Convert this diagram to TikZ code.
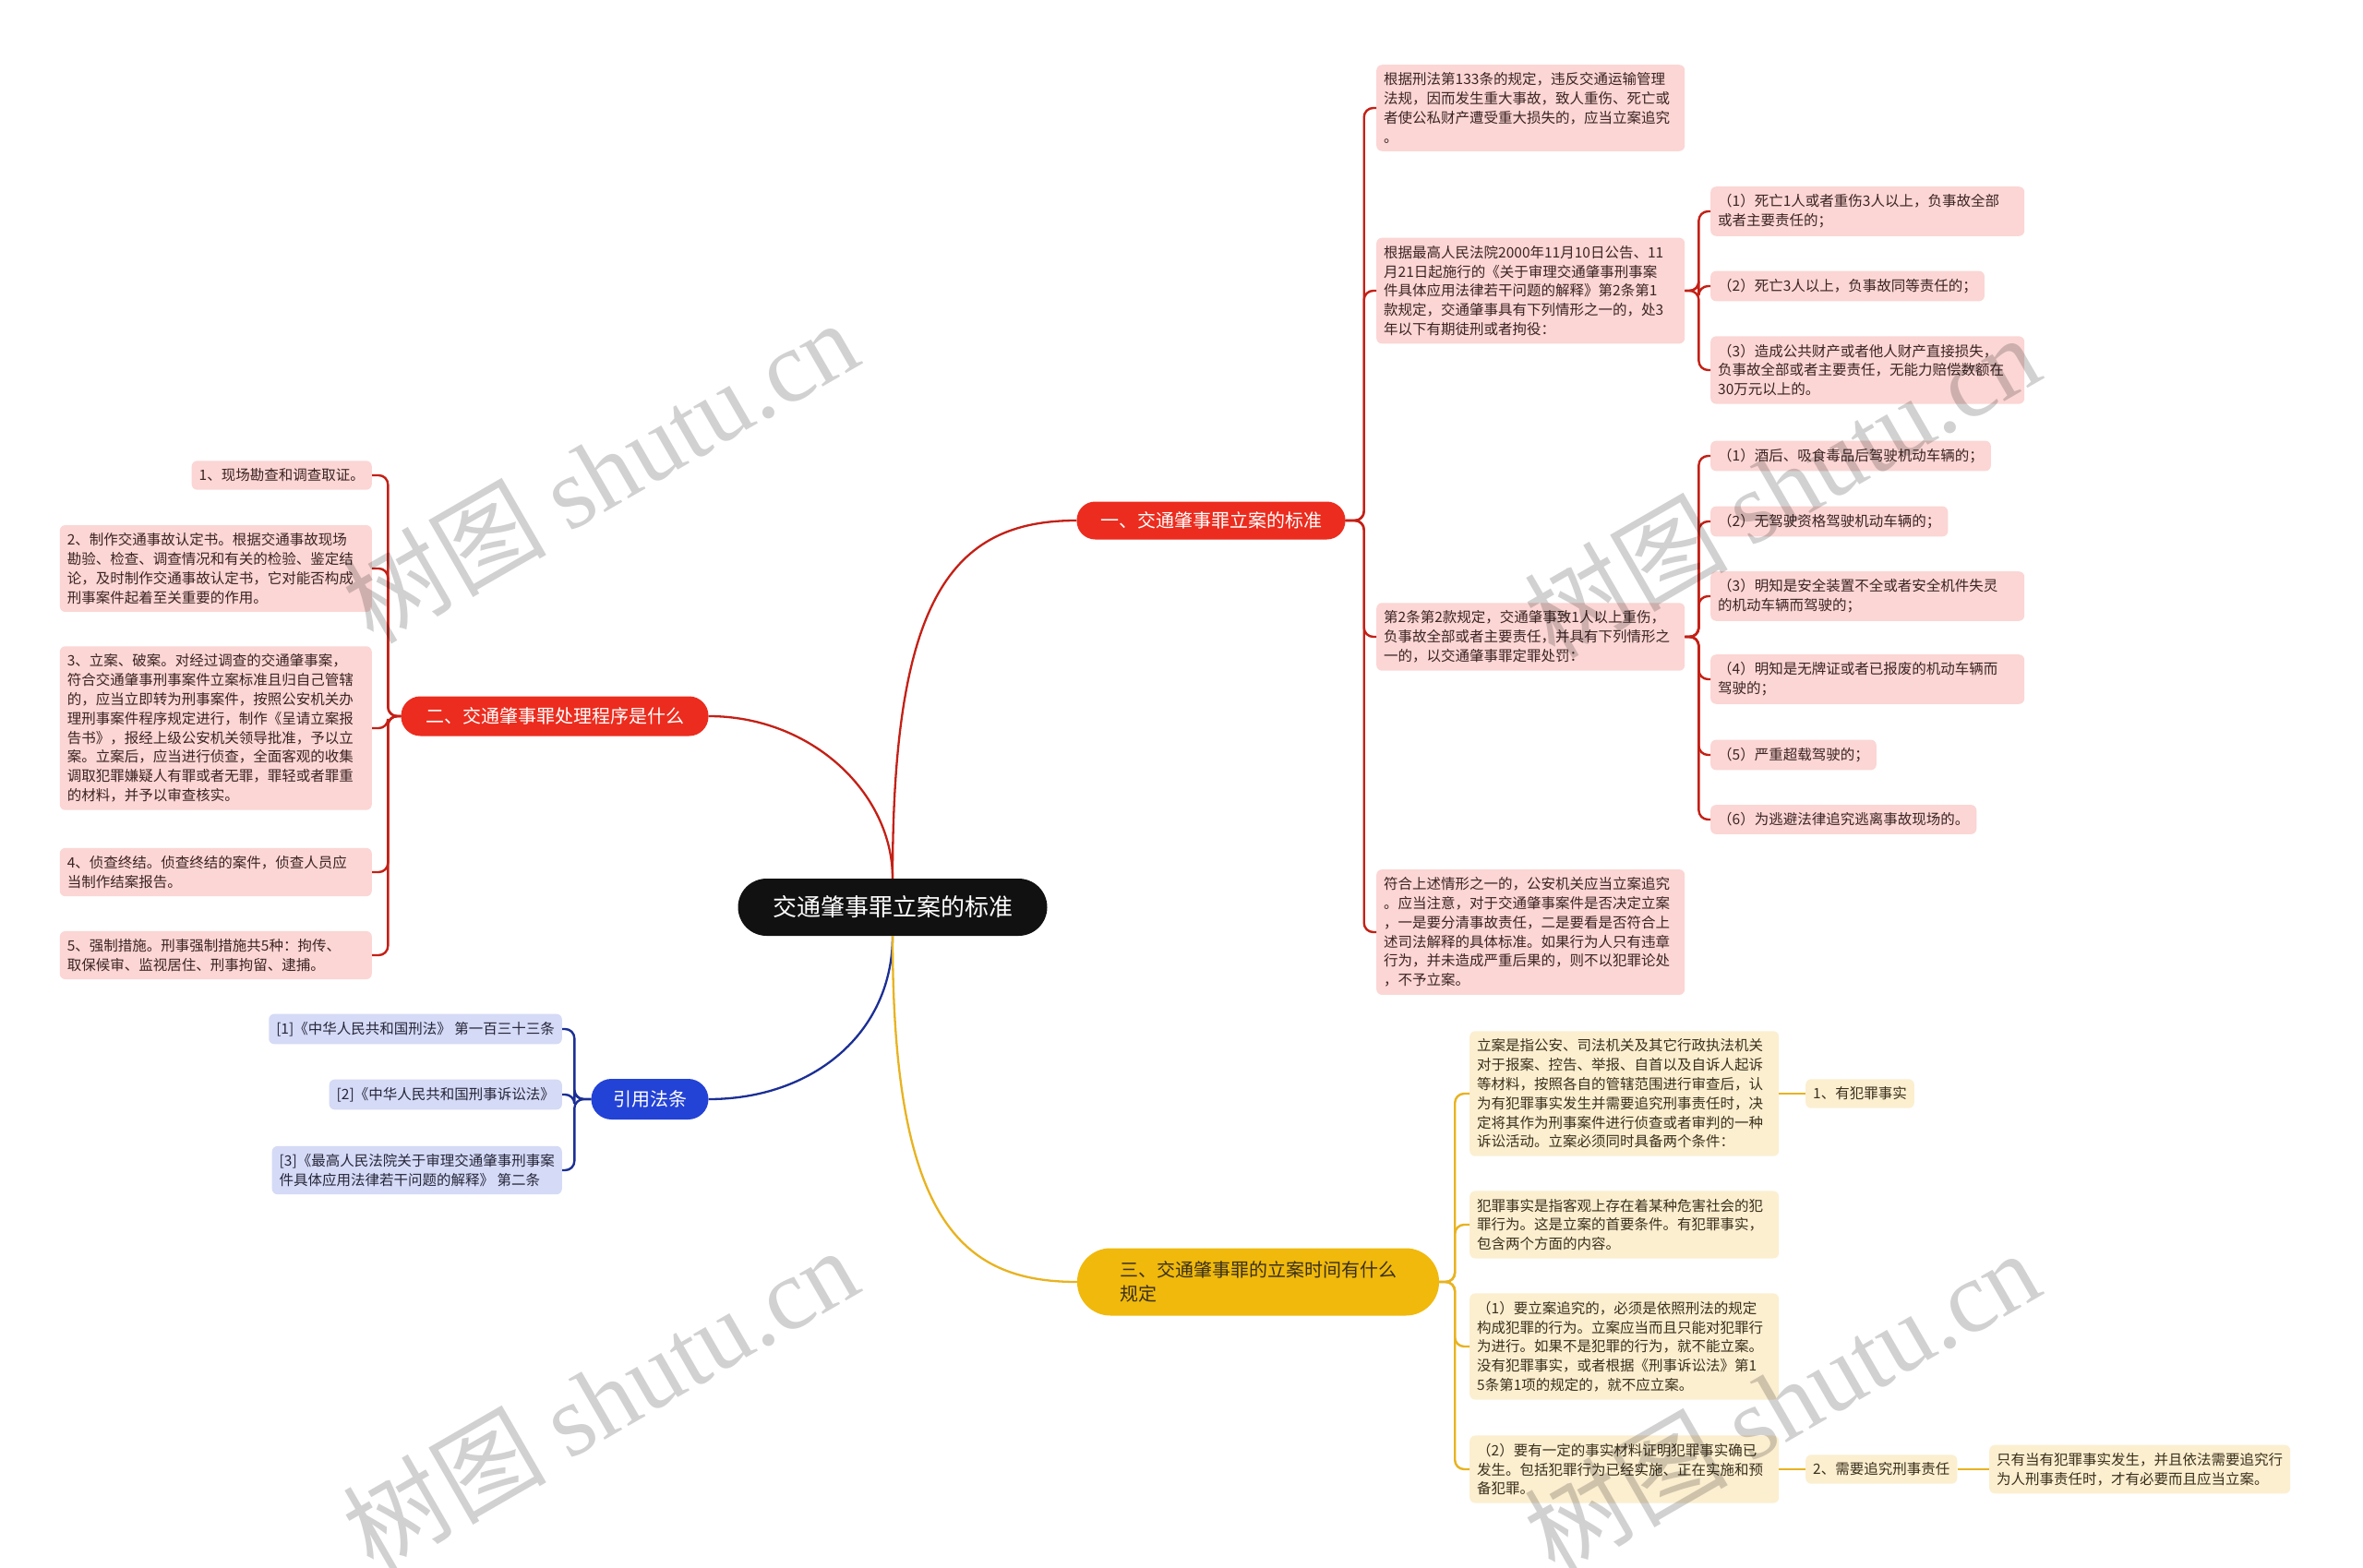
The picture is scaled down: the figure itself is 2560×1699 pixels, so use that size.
\documentclass[tikz,border=0pt]{standalone}
\usepackage{fontspec}
\setmainfont{Noto Sans CJK SC}
\newfontfamily\wmlatin{Liberation Serif}
\definecolor{redpill}{HTML}{EC2C1E}
\definecolor{redline}{HTML}{C42016}
\definecolor{pinkbox}{HTML}{FBD6D4}
\definecolor{pinktext}{HTML}{3C2424}
\definecolor{bluepill}{HTML}{2342D6}
\definecolor{blueline}{HTML}{1B2F95}
\definecolor{lavbox}{HTML}{D5DAF6}
\definecolor{bluetext}{HTML}{26263A}
\definecolor{yelpill}{HTML}{F0B90C}
\definecolor{yelline}{HTML}{E8B320}
\definecolor{yelbox}{HTML}{FCEFD0}
\definecolor{yeltext}{HTML}{3A301C}
\definecolor{centerfill}{HTML}{111111}
\begin{document}
\begin{tikzpicture}[x=1pt,y=-1pt,
  box/.style={rounded corners=6pt, inner xsep=8pt, inner ysep=8.5pt,
    font=\fontsize{15.5}{20.8}\selectfont, align=left},
  pinkb/.style={box, fill=pinkbox, text=pinktext},
  lavb/.style={box, fill=lavbox, text=bluetext},
  yelb/.style={box, fill=yelbox, text=yeltext},
  pillbase/.style={rectangle, inner xsep=12pt, inner ysep=4pt,
    font=\fontsize{20}{26}\selectfont},
  redpillst/.style={pillbase, fill=redpill, text=white},
  bluepillst/.style={pillbase, fill=bluepill, text=white},
  yelpillst/.style={pillbase, fill=yelpill, text=yeltext, align=left},
  centerst/.style={rectangle, rounded corners=31pt, fill=centerfill, text=white,
    font=\fontsize{26}{30}\selectfont, minimum width=335pt, minimum height=62pt},
  redm/.style={draw=redline, line width=2.3pt},
  bluem/.style={draw=blueline, line width=2.3pt},
  yelm/.style={draw=yelline, line width=2.3pt},
  redl/.style={draw=redline, line width=2.4pt, rounded corners=10pt},
  bluel/.style={draw=blueline, line width=2.4pt, rounded corners=10pt},
  yell/.style={draw=yelline, line width=2.4pt, rounded corners=10pt},
  wm/.style={text=black, text opacity=0.18, font=\fontsize{110}{120}\selectfont, rotate=30}
]
\path[use as bounding box, fill=white] (0,0) rectangle (2560,1699);

% center and main branches
\node[centerst] (c) at (967,983) {交通肇事罪立案的标准};
\node[redpillst, rounded corners=20pt, minimum width=291pt, minimum height=41pt] (b1) at (1312,564) {一、交通肇事罪立案的标准};
\node[redpillst, rounded corners=21pt, minimum width=333pt, minimum height=43pt] (b2) at (601,776) {二、交通肇事罪处理程序是什么};
\node[bluepillst, rounded corners=22pt, minimum width=127pt, minimum height=44pt] (b4) at (704,1191) {引用法条};
\node[yelpillst, rounded corners=36pt, minimum width=392pt, minimum height=73pt] (b3) at (1363,1389) {三、交通肇事罪的立案时间有什么\\规定};

\draw[redm] (c.north) .. controls (967,650) and (1030,564) .. (b1.west);
\draw[redm] (c.north) .. controls (967,860) and (880,776) .. (b2.east);
\draw[bluem] (c.south) .. controls (967,1120) and (880,1191) .. (b4.east);
\draw[yelm] (c.south) .. controls (967,1320) and (1040,1389) .. (b3.west);

% branch 1 children
\node[pinkb, text width=318pt, anchor=west] (a1) at (1491,117) {根据刑法第133条的规定，违反交通运输管理\\法规，因而发生重大事故，致人重伤、死亡或\\者使公私财产遭受重大损失的，应当立案追究\\。};
\node[pinkb, text width=318pt, anchor=west] (a2) at (1491,315) {根据最高人民法院2000年11月10日公告、11\\月21日起施行的《关于审理交通肇事刑事案\\件具体应用法律若干问题的解释》第2条第1\\款规定，交通肇事具有下列情形之一的，处3\\年以下有期徒刑或者拘役：};
\node[pinkb, text width=318pt, anchor=west] (a3) at (1491,690) {第2条第2款规定，交通肇事致1人以上重伤，\\负事故全部或者主要责任，并具有下列情形之\\一的，以交通肇事罪定罪处罚：};
\node[pinkb, text width=318pt, anchor=west] (a4) at (1491,1010) {符合上述情形之一的，公安机关应当立案追究\\。应当注意，对于交通肇事案件是否决定立案\\，一是要分清事故责任，二是要看是否符合上\\述司法解释的具体标准。如果行为人只有违章\\行为，并未造成严重后果的，则不以犯罪论处\\，不予立案。};
\foreach \n in {a1,a2,a3,a4} \draw[redl] (b1.east) -- ++(20,0) |- (\n.west);

% a2 children
\node[pinkb, text width=324pt, anchor=west] (p1) at (1853,229) {（1）死亡1人或者重伤3人以上，负事故全部\\或者主要责任的；};
\node[pinkb, anchor=west] (p2) at (1853,310) {（2）死亡3人以上，负事故同等责任的；};
\node[pinkb, text width=324pt, anchor=west] (p3) at (1853,401) {（3）造成公共财产或者他人财产直接损失，\\负事故全部或者主要责任，无能力赔偿数额在\\30万元以上的。};
\foreach \n in {p1,p2,p3} \draw[redl] (a2.east) -- ++(15,0) |- (\n.west);

% a3 children
\node[pinkb, anchor=west] (q1) at (1853,494) {（1）酒后、吸食毒品后驾驶机动车辆的；};
\node[pinkb, anchor=west] (q2) at (1853,565) {（2）无驾驶资格驾驶机动车辆的；};
\node[pinkb, text width=324pt, anchor=west] (q3) at (1853,646) {（3）明知是安全装置不全或者安全机件失灵\\的机动车辆而驾驶的；};
\node[pinkb, text width=324pt, anchor=west] (q4) at (1853,736) {（4）明知是无牌证或者已报废的机动车辆而\\驾驶的；};
\node[pinkb, anchor=west] (q5) at (1853,818) {（5）严重超载驾驶的；};
\node[pinkb, anchor=west] (q6) at (1853,888) {（6）为逃避法律追究逃离事故现场的。};
\foreach \n in {q1,q2,q3,q4,q5,q6} \draw[redl] (a3.east) -- ++(15,0) |- (\n.west);

% branch 2 children
\node[pinkb, anchor=east] (l1) at (403,515) {1、现场勘查和调查取证。};
\node[pinkb, text width=322pt, anchor=east] (l2) at (403,616) {2、制作交通事故认定书。根据交通事故现场\\勘验、检查、调查情况和有关的检验、鉴定结\\论，及时制作交通事故认定书，它对能否构成\\刑事案件起着至关重要的作用。};
\node[pinkb, text width=322pt, anchor=east] (l3) at (403,789) {3、立案、破案。对经过调查的交通肇事案，\\符合交通肇事刑事案件立案标准且归自己管辖\\的，应当立即转为刑事案件，按照公安机关办\\理刑事案件程序规定进行，制作《呈请立案报\\告书》，报经上级公安机关领导批准，予以立\\案。立案后，应当进行侦查，全面客观的收集\\调取犯罪嫌疑人有罪或者无罪，罪轻或者罪重\\的材料，并予以审查核实。};
\node[pinkb, text width=322pt, anchor=east] (l4) at (403,945) {4、侦查终结。侦查终结的案件，侦查人员应\\当制作结案报告。};
\node[pinkb, text width=322pt, anchor=east] (l5) at (403,1035) {5、强制措施。刑事强制措施共5种：拘传、\\取保候审、监视居住、刑事拘留、逮捕。};
\foreach \n in {l1,l2,l3,l4,l5} \draw[redl] (b2.west) -- ++(-14,0) |- (\n.east);

% references
\node[lavb, anchor=east] (r1) at (609,1115) {[1]《中华人民共和国刑法》 第一百三十三条};
\node[lavb, anchor=east] (r2) at (609,1186) {[2]《中华人民共和国刑事诉讼法》};
\node[lavb, anchor=east] (r3) at (609,1268) {[3]《最高人民法院关于审理交通肇事刑事案\\件具体应用法律若干问题的解释》 第二条};
\foreach \n in {r1,r2,r3} \draw[bluel] (b4.west) -- ++(-18,0) |- (\n.east);

% branch 3 children
\node[yelb, text width=319pt, anchor=west] (y1) at (1592,1185) {立案是指公安、司法机关及其它行政执法机关\\对于报案、控告、举报、自首以及自诉人起诉\\等材料，按照各自的管辖范围进行审查后，认\\为有犯罪事实发生并需要追究刑事责任时，决\\定将其作为刑事案件进行侦查或者审判的一种\\诉讼活动。立案必须同时具备两个条件：};
\node[yelb, text width=319pt, anchor=west] (y2) at (1592,1327) {犯罪事实是指客观上存在着某种危害社会的犯\\罪行为。这是立案的首要条件。有犯罪事实，\\包含两个方面的内容。};
\node[yelb, text width=319pt, anchor=west] (y3) at (1592,1459) {（1）要立案追究的，必须是依照刑法的规定\\构成犯罪的行为。立案应当而且只能对犯罪行\\为进行。如果不是犯罪的行为，就不能立案。\\没有犯罪事实，或者根据《刑事诉讼法》第1\\5条第1项的规定的，就不应立案。};
\node[yelb, text width=319pt, anchor=west] (y4) at (1592,1592) {（2）要有一定的事实材料证明犯罪事实确已\\发生。包括犯罪行为已经实施、正在实施和预\\备犯罪。};
\foreach \n in {y1,y2,y3,y4} \draw[yell] (b3.east) -- ++(17,0) |- (\n.west);

\node[yelb, anchor=west] (f1) at (1956,1185) {1、有犯罪事实};
\node[yelb, anchor=west] (f2) at (1956,1592) {2、需要追究刑事责任};
\node[yelb, anchor=west] (f3) at (2155,1592) {只有当有犯罪事实发生，并且依法需要追究行\\为人刑事责任时，才有必要而且应当立案。};
\draw[yell] (y1.east) -- (f1.west);
\draw[yell] (y4.east) -- (f2.west);
\draw[yell] (f2.east) -- (f3.west);

% watermarks
\node[wm] (w1) at (650,510) {树图 {\wmlatin shutu.cn}};
\node[wm] (w2) at (1930,526) {树图 {\wmlatin shutu.cn}};
\node[wm] (w3) at (650,1515) {树图 {\wmlatin shutu.cn}};
\node[wm] (w4) at (1930,1518) {树图 {\wmlatin shutu.cn}};
\end{tikzpicture}
\end{document}
